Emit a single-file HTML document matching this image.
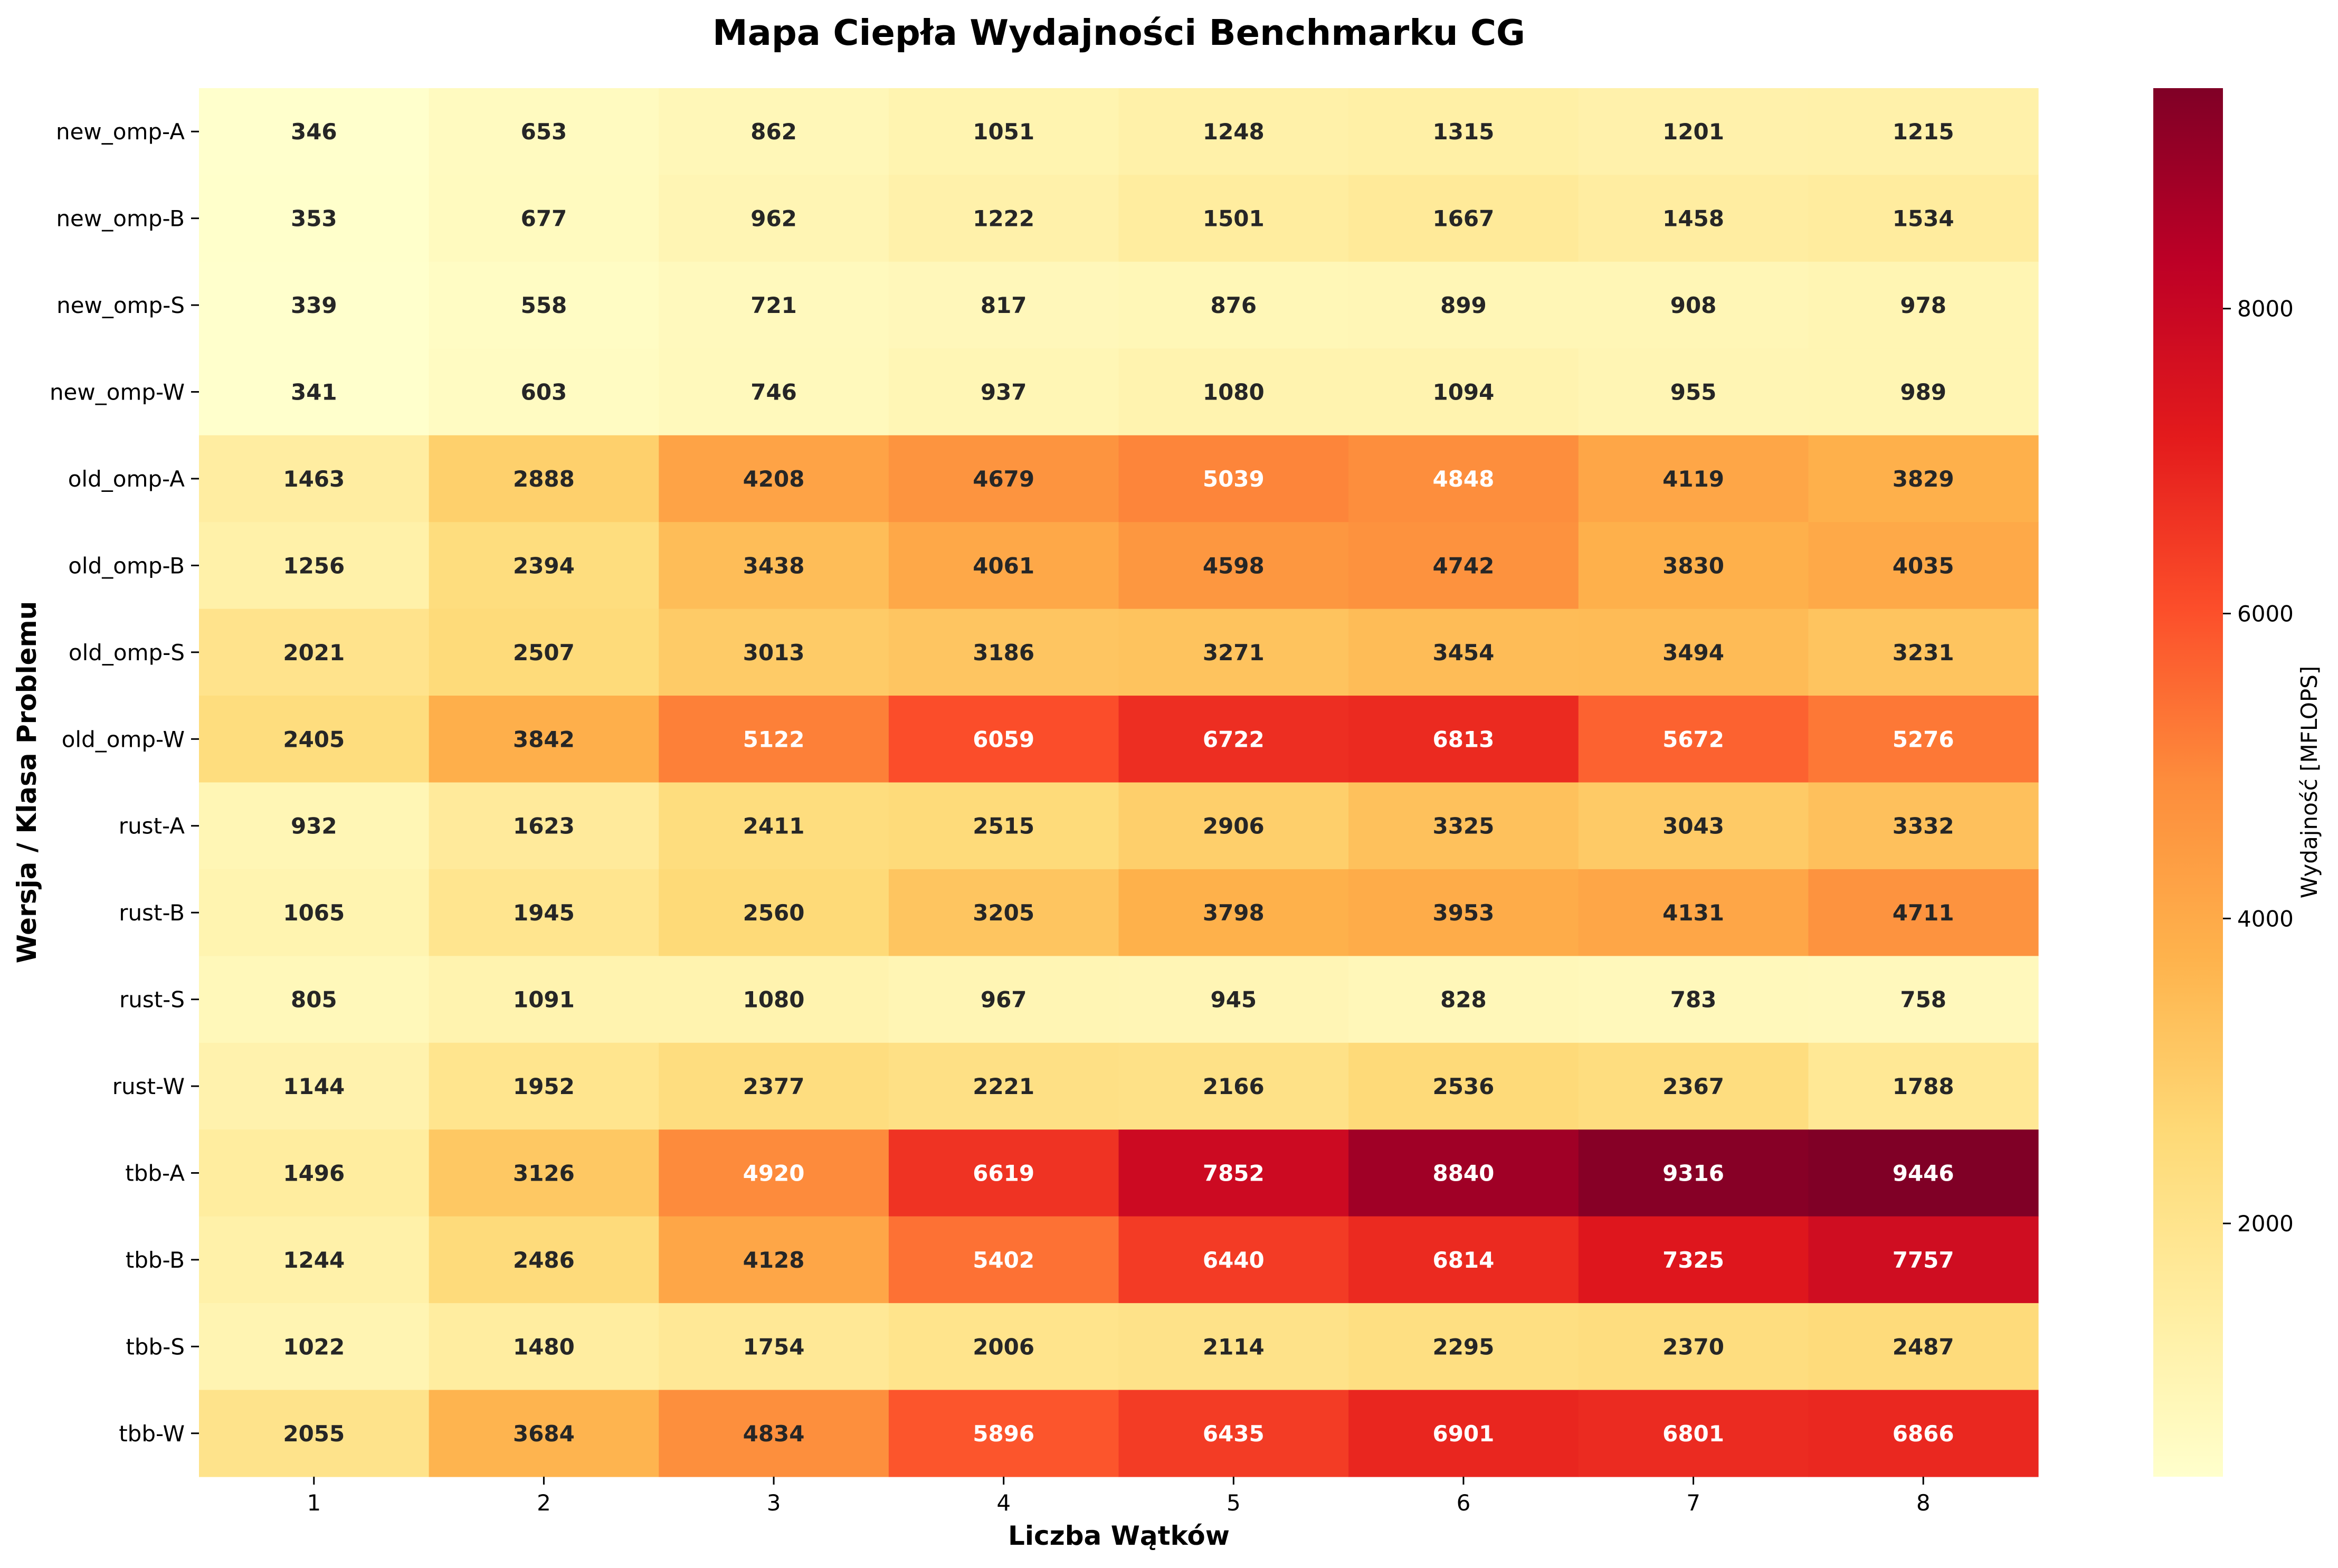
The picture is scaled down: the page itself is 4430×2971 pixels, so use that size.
<!DOCTYPE html>
<html><head><meta charset="utf-8"><style>
html,body{margin:0;padding:0;background:#fff;}
svg text{font-family:"DejaVu Sans","Liberation Sans",sans-serif;}
</style></head><body>
<svg id="chart" xmlns="http://www.w3.org/2000/svg" width="4430" height="2966" viewBox="0 0 4430 2966">
<rect width="4430" height="2966" fill="#fff"/>
<defs><linearGradient id="cbgrad" x1="0" y1="1" x2="0" y2="0"></linearGradient></defs>
<text x="2120" y="85" text-anchor="middle" font-size="67" font-weight="bold">Mapa Ciepła Wydajności Benchmarku CG</text>
<text x="2120" y="2927" text-anchor="middle" font-size="50" font-weight="bold">Liczba Wątków</text>
<text transform="translate(68,1482) rotate(-90)" text-anchor="middle" font-size="50" font-weight="bold">Wersja / Klasa Problemu</text>
<text transform="translate(4390,1482) rotate(-90)" text-anchor="middle" font-size="42">Wydajność [MFLOPS]</text>
<g id="cells"></g>
<g id="yticks"></g>
<g id="xticks"></g>
<g id="cbar"></g>
</svg>
<script>
const rowLabels = ["new_omp-A","new_omp-B","new_omp-S","new_omp-W","old_omp-A","old_omp-B","old_omp-S","old_omp-W","rust-A","rust-B","rust-S","rust-W","tbb-A","tbb-B","tbb-S","tbb-W"];
const colLabels = ["1","2","3","4","5","6","7","8"];
const valNewOmp = [[346,653,862,1051,1248,1315,1201,1215],[353,677,962,1222,1501,1667,1458,1534],[339,558,721,817,876,899,908,978],[341,603,746,937,1080,1094,955,989]];
const valOldOmp = [[1463,2888,4208,4679,5039,4848,4119,3829],[1256,2394,3438,4061,4598,4742,3830,4035],[2021,2507,3013,3186,3271,3454,3494,3231],[2405,3842,5122,6059,6722,6813,5672,5276]];
const valRust = [[932,1623,2411,2515,2906,3325,3043,3332],[1065,1945,2560,3205,3798,3953,4131,4711],[805,1091,1080,967,945,828,783,758],[1144,1952,2377,2221,2166,2536,2367,1788]];
const valTbb = [[1496,3126,4920,6619,7852,8840,9316,9446],[1244,2486,4128,5402,6440,6814,7325,7757],[1022,1480,1754,2006,2114,2295,2370,2487],[2055,3684,4834,5896,6435,6901,6801,6866]];
const cbTicks = [2000,4000,6000,8000];

const values = valNewOmp.concat(valOldOmp, valRust, valTbb);
const NS = "http://www.w3.org/2000/svg";
const L = 377, R = 3862, T = 167, B = 2798;
const flat = values.flat();
const vmin = Math.min(...flat), vmax = Math.max(...flat);
const cw = (R - L) / colLabels.length, rh = (B - T) / rowLabels.length;
const xPos = i => L + i * cw;
const yPos = j => T + j * rh;
const stops = ["#ffffcc","#ffeda0","#fed976","#feb24c","#fd8d3c","#fc4e2a","#e31a1c","#bd0026","#800026"].map(h => [parseInt(h.slice(1,3),16),parseInt(h.slice(3,5),16),parseInt(h.slice(5,7),16)]);
function cmap(t){t=Math.max(0,Math.min(1,t));const p=t*(stops.length-1);const i=Math.min(stops.length-2,Math.floor(p));const f=p-i;return stops[i].map((c,k)=>Math.round(c+(stops[i+1][k]-c)*f));}
function lum(c){const l=c.map(v=>{v/=255;return v<=0.03928?v/12.92:Math.pow((v+0.055)/1.055,2.4);});return 0.2126*l[0]+0.7152*l[1]+0.0722*l[2];}
function mk(tag, attrs, parent){const e=document.createElementNS(NS,tag);for(const k in attrs)e.setAttribute(k,attrs[k]);parent.appendChild(e);return e;}
const cells = document.getElementById("cells");
values.forEach((row, j) => row.forEach((v, i) => {
  const c = cmap((v - vmin) / (vmax - vmin));
  const r = mk("rect", {x: xPos(i), y: yPos(j), width: cw + 0.6, height: rh + 0.6, fill: `rgb(${c})`}, cells);
  
  
  const t = mk("text", {x: xPos(i) + cw/2, y: yPos(j) + rh/2 + 15, "text-anchor": "middle", "font-size": 42, "font-weight": "bold", fill: lum(c) < 0.408 ? "#ffffff" : "#262626"}, cells);
  t.textContent = v;
  
  
}));
const yt = document.getElementById("yticks");
rowLabels.forEach((lab, j) => {
  const y = yPos(j) + rh/2;
  mk("line", {x1: L - 15, x2: L, y1: y, y2: y, stroke: "#000", "stroke-width": 3}, yt);
  const t = mk("text", {x: L - 27, y: y + 15, "text-anchor": "end", "font-size": 42}, yt);
  t.textContent = lab;
  
  
});
const xt = document.getElementById("xticks");
colLabels.forEach((lab, i) => {
  const x = xPos(i) + cw/2;
  mk("line", {x1: x, x2: x, y1: B, y2: B + 15, stroke: "#000", "stroke-width": 3}, xt);
  const t = mk("text", {x: x, y: 2862, "text-anchor": "middle", "font-size": 42}, xt);
  t.textContent = lab;
  
  
});
const grad = document.getElementById("cbgrad");
for (let k = 0; k <= 40; k++) { const c = cmap(k/40); mk("stop", {offset: (k/40), "stop-color": `rgb(${c})`}, grad); }
const cb = document.getElementById("cbar");
const CX1 = 4080, CX2 = 4212;
const cbRect = mk("rect", {x: CX1, y: T, width: CX2 - CX1, height: B - T, fill: "url(#cbgrad)"}, cb);


const cbY = v => B - (v - vmin) / (vmax - vmin) * (B - T);
cbTicks.forEach(v => {
  const y = cbY(v);
  mk("line", {x1: CX2, x2: CX2 + 15, y1: y, y2: y, stroke: "#000", "stroke-width": 3}, cb);
  const t = mk("text", {x: CX2 + 27, y: y + 15, "font-size": 42}, cb);
  t.textContent = v;
  
  
});
</script>
</body></html>
